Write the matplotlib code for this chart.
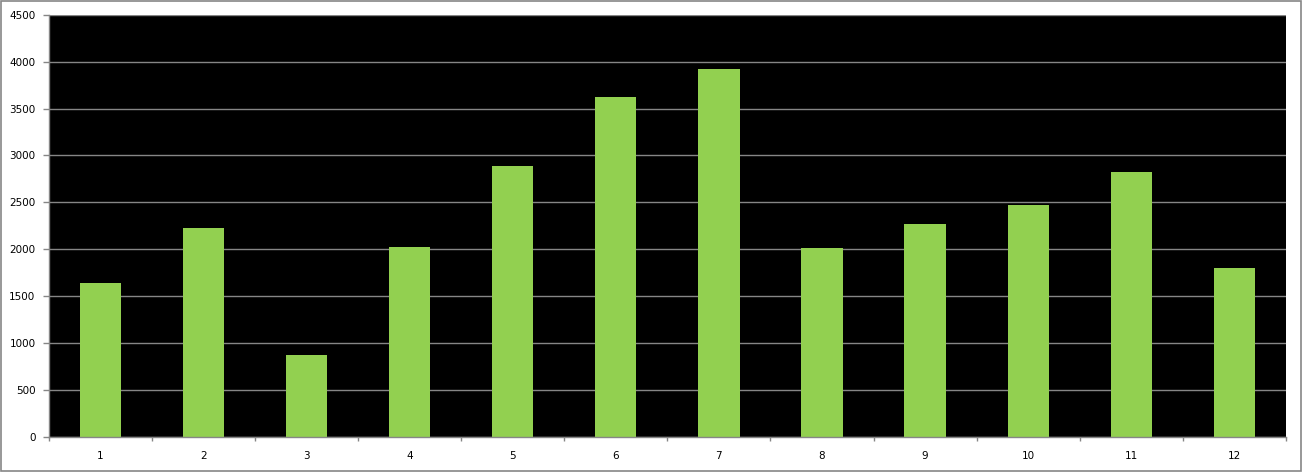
import matplotlib
matplotlib.use("Agg")
from matplotlib import pyplot as plt
from matplotlib.patches import Rectangle
import numpy as np

# data
months = ['1', '2', '3', '4', '5', '6', '7', '8', '9', '10', '11', '12']
values = [1641, 2227, 874, 2025, 2888, 3623, 3921, 2014, 2270, 2472, 2824, 1801]
y_ticks = [0, 500, 1000, 1500, 2000, 2500, 3000, 3500, 4000, 4500]

grey = '#868686'

fig = plt.figure(figsize=(13.02, 4.72), dpi=100)
ax = fig.add_axes([0.0374, 0.0742, 0.9503, 0.8947])

x = np.arange(1, len(months) + 1)
ax.bar(x, values, width=0.4, color='#92D050', zorder=3)

ax.set_facecolor('black')
ax.set_xlim(0.5, len(months) + 0.5)
ax.set_ylim(0, 4500)

# y axis
ax.set_yticks(y_ticks)
ax.set_yticklabels([str(v) for v in y_ticks])
ax.yaxis.grid(True, color=grey, linewidth=1, zorder=1)
ax.tick_params(axis='y', length=4, width=1, color=grey, pad=5.5, labelsize=7.5)

# x axis: ticks between categories, labels centered
ax.set_xticks(np.arange(0.5, len(months) + 1, 1.0))
ax.set_xticklabels([])
ax.set_xticks(x, minor=True)
ax.set_xticklabels(months, minor=True)
ax.tick_params(axis='x', which='major', length=3, width=1, color=grey)
ax.tick_params(axis='x', which='minor', length=0, pad=10, labelsize=7.5)

for s in ['top', 'right']:
    ax.spines[s].set_visible(False)
for s in ['left', 'bottom']:
    ax.spines[s].set_color(grey)
    ax.spines[s].set_linewidth(1)
    ax.spines[s].set_zorder(4)

# outer chart border
fig.patches.append(Rectangle((0.0008, 0.002), 0.9984, 0.996, transform=fig.transFigure,
                             fill=False, edgecolor=grey, linewidth=1.2))

fig.savefig('out.png', dpi=100)
